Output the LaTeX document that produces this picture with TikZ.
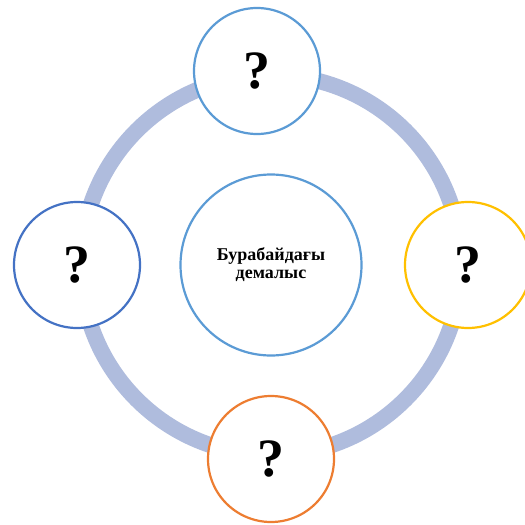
\documentclass[tikz,border=0pt]{standalone}
\usepackage{fontspec}
\setmainfont{Liberation Serif}
\definecolor{ringblue}{RGB}{175,188,221}
\definecolor{acblue}{RGB}{91,155,213}
\definecolor{acdark}{RGB}{68,114,196}
\definecolor{acgold}{RGB}{255,192,0}
\definecolor{acorange}{RGB}{237,125,49}
\tikzstyle{bub}=[shape=circle, minimum size=126pt, inner sep=0, fill=white, line width=2.2pt, font=\fontsize{54}{54}\selectfont\bfseries]
\tikzstyle{hub}=[shape=circle, minimum size=181pt, inner sep=0, fill=white, draw=acblue, line width=2.2pt, align=center, font=\fontsize{18}{18}\selectfont\bfseries]

\begin{document}
\begin{tikzpicture}[x=1pt, y=-1pt]
\useasboundingbox (0,0) rectangle (525,525);
\draw[ringblue, line width=16pt] (271,265) circle (190);
\node at (271,265)[hub](hub){Бурабайдағы\\демалыс};
\node at (257,71)[bub, draw=acblue](top){?};
\node at (77,265)[bub, draw=acdark](left){?};
\node at (468,265)[bub, draw=acgold](right){?};
\node at (271,459)[bub, draw=acorange](bottom){?};
\end{tikzpicture}
\end{document}
